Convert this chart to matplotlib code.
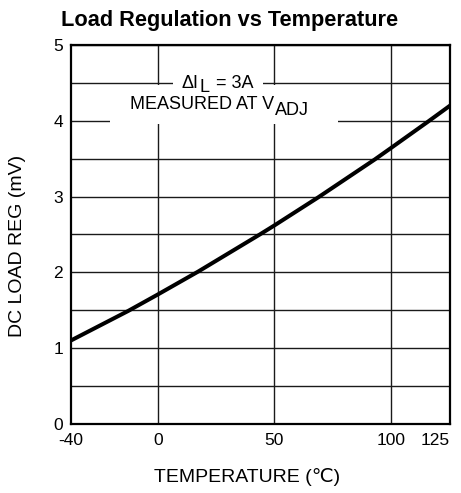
import numpy as np
import matplotlib
matplotlib.use('Agg')
import matplotlib.pyplot as plt
from matplotlib.patches import Rectangle

plt.rcParams['font.family'] = ['Liberation Sans', 'DejaVu Sans']

# ****************************** Data ******************************
temp = [-37.5, -12.9, 0.0, 17.2, 43.7, 50.0, 68.8, 93.1, 100.0, 116.0, 125.4]
load_reg = [1.10, 1.49, 1.71, 2.01, 2.50, 2.62, 2.99, 3.49, 3.64, 3.99, 4.20]

x_ticks = [-37.5, 0, 50, 100, 125.4]
x_tick_labels = ['-40', '0', '50', '100', '125']
y_ticks = [0, 1, 2, 3, 4, 5]
y_grid = np.arange(0, 5.01, 0.5)

# ****************************** Figure ******************************
fig = plt.figure(figsize=(4.61, 4.93), dpi=100)
ax = fig.add_axes([0.1534, 0.140, 0.8227, 0.7687])

ax.set_xlim(x_ticks[0], x_ticks[-1])
ax.set_ylim(0, 5)

# grid
for yv in y_grid:
    ax.axhline(yv, color='#1a1a1a', lw=1.0, zorder=1)
for xv in x_ticks[1:-1]:
    ax.axvline(xv, color='#1a1a1a', lw=1.0, zorder=1)

ax.plot(temp, load_reg, color='black', lw=2.9, solid_joinstyle='round', zorder=3)

ax.set_xticks(x_ticks)
ax.set_xticklabels(x_tick_labels, fontsize=12.5)
ax.get_xticklabels()[-1].set_ha('right')
ax.set_yticks(y_ticks)
ax.set_yticklabels([str(v) for v in y_ticks], fontsize=12.5)
ax.tick_params(axis='x', length=0, pad=6.5)
ax.tick_params(axis='y', length=0, pad=5.5)

for s in ax.spines.values():
    s.set_linewidth(1.6)
    s.set_zorder(4)

# white label boxes that break the grid
ax.add_patch(Rectangle((0.269, 0.876), 0.238, 0.053, transform=ax.transAxes,
                       facecolor='white', edgecolor='none', zorder=2))
ax.add_patch(Rectangle((0.103, 0.792), 0.601, 0.102, transform=ax.transAxes,
                       facecolor='white', edgecolor='none', zorder=2))

# "delta I_L = 3A"
t1 = ax.text(0.293, 0.898, '\u0394I', fontsize=13, ha='left', va='center',
             transform=ax.transAxes, zorder=5)
t2 = ax.annotate('L', xy=(1, 0.5), xycoords=t1, xytext=(0.3, -3), textcoords='offset points',
                 fontsize=13, ha='left', va='center', zorder=5)
ax.annotate('= 3A', xy=(1, 0.5), xycoords=t2, xytext=(4.5, 3), textcoords='offset points',
            fontsize=13, ha='left', va='center', zorder=5)

# "MEASURED AT V_ADJ"
t3 = ax.text(0.156, 0.842, 'MEASURED AT V', fontsize=13, ha='left', va='center',
             transform=ax.transAxes, zorder=5)
ax.annotate('ADJ', xy=(1, 0.5), xycoords=t3, xytext=(0.5, -4), textcoords='offset points',
            fontsize=13, ha='left', va='center', zorder=5)

fig.text(0.497, 0.958, 'Load Regulation vs Temperature', fontsize=15.7, fontweight='bold',
         ha='center', va='center')
fig.text(0.537, 0.033, 'TEMPERATURE (\u2103)', fontsize=14, ha='center', va='center')
fig.text(0.039, 0.501, 'DC LOAD REG (mV)', fontsize=14, rotation=90, ha='center', va='center')

plt.savefig('out.png', dpi=100)
